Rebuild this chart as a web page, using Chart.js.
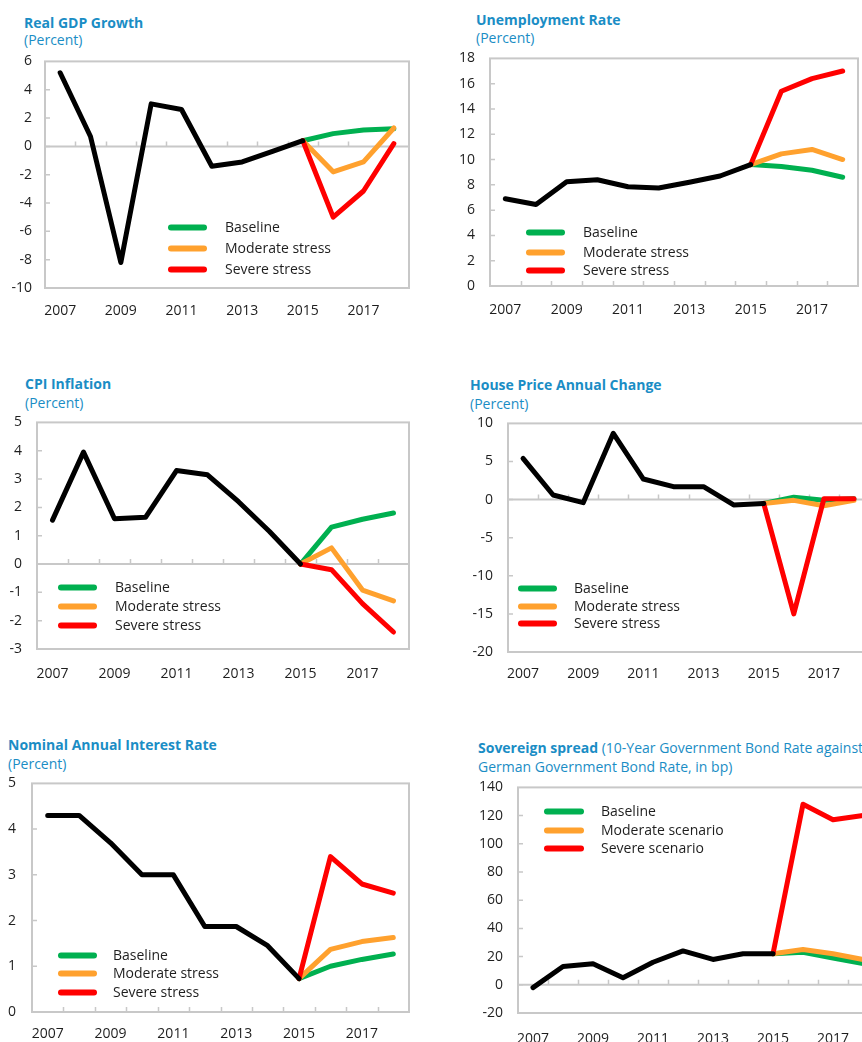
<!DOCTYPE html>
<html><head><meta charset="utf-8">
<script src="https://cdn.jsdelivr.net/npm/chart.js@4.4.0/dist/chart.umd.min.js"></script>
<style>
html,body{margin:0;padding:0;background:#fff;overflow:hidden;}
#wrap{position:relative;width:862px;height:1042px;overflow:hidden;background:#fff;}
canvas{position:absolute;}
.t{position:absolute;font-family:'Open Sans',sans-serif;font-size:14px;line-height:17px;color:#1a8dc5;white-space:nowrap;}
.t b{font-weight:700;}
</style></head><body><div id="wrap">
<div class="t" style="left:24px;top:14px"><b>Real GDP Growth</b></div>
<div class="t" style="left:24px;top:31px">(Percent)</div>
<div class="t" style="left:476px;top:11px"><b>Unemployment Rate</b></div>
<div class="t" style="left:476px;top:29px">(Percent)</div>
<div class="t" style="left:25px;top:375px"><b>CPI Inflation</b></div>
<div class="t" style="left:25px;top:394px">(Percent)</div>
<div class="t" style="left:470px;top:376px"><b>House Price Annual Change</b></div>
<div class="t" style="left:470px;top:395px">(Percent)</div>
<div class="t" style="left:8px;top:736px"><b>Nominal Annual Interest Rate</b></div>
<div class="t" style="left:8px;top:755px">(Percent)</div>
<div class="t" style="left:478px;top:739px"><b>Sovereign spread</b> (10-Year Government Bond Rate against</div>
<div class="t" style="left:478px;top:758px">German Government Bond Rate, in bp)</div>
</div>
<script>
// ---------- DATA ----------
const years = ['2007','2008','2009','2010','2011','2012','2013','2014','2015','2016','2017','2018'];
const shownYears = ['2007','2009','2011','2013','2015','2017'];
const legendStress = ['Baseline','Moderate stress','Severe stress'];
const legendScenario = ['Baseline','Moderate scenario','Severe scenario'];
const N = null;

const gdpHistory  = [5.2, 0.7, -8.2, 3.0, 2.6, -1.4, -1.1, -0.35, 0.4, N, N, N];
const gdpBaseline = [N, N, N, N, N, N, N, N, 0.4, 0.9, 1.15, 1.25];
const gdpModerate = [N, N, N, N, N, N, N, N, 0.4, -1.8, -1.1, 1.3];
const gdpSevere   = [N, N, N, N, N, N, N, N, 0.4, -5.0, -3.15, 0.2];

const unHistory  = [6.9, 6.45, 8.25, 8.4, 7.85, 7.75, 8.2, 8.7, 9.6, N, N, N];
const unBaseline = [N, N, N, N, N, N, N, N, 9.6, 9.45, 9.15, 8.6];
const unModerate = [N, N, N, N, N, N, N, N, 9.6, 10.45, 10.8, 10.0];
const unSevere   = [N, N, N, N, N, N, N, N, 9.6, 15.4, 16.4, 17.0];

const cpiHistory  = [1.55, 3.95, 1.6, 1.65, 3.3, 3.15, 2.2, 1.15, 0.0, N, N, N];
const cpiBaseline = [N, N, N, N, N, N, N, N, 0.0, 1.3, 1.58, 1.8];
const cpiModerate = [N, N, N, N, N, N, N, N, 0.0, 0.57, -0.92, -1.3];
const cpiSevere   = [N, N, N, N, N, N, N, N, 0.0, -0.2, -1.4, -2.4];

const hpHistory  = [5.4, 0.6, -0.4, 8.7, 2.7, 1.7, 1.7, -0.7, -0.5, N, N, N];
const hpBaseline = [N, N, N, N, N, N, N, N, -0.5, 0.3, -0.1, 0.1];
const hpModerate = [N, N, N, N, N, N, N, N, -0.5, -0.1, -0.8, -0.1];
const hpSevere   = [N, N, N, N, N, N, N, N, -0.5, -15.0, 0.1, 0.1];

const irHistory  = [4.3, 4.3, 3.7, 3.0, 3.0, 1.87, 1.87, 1.45, 0.73, N, N, N];
const irBaseline = [N, N, N, N, N, N, N, N, 0.73, 1.0, 1.15, 1.27];
const irModerate = [N, N, N, N, N, N, N, N, 0.73, 1.37, 1.54, 1.63];
const irSevere   = [N, N, N, N, N, N, N, N, 0.73, 3.4, 2.8, 2.6];

const ssHistory  = [-2, 13, 15, 5, 16, 24, 18, 22, 22, N, N, N];
const ssBaseline = [N, N, N, N, N, N, N, N, 22, 23, 19, 15];
const ssModerate = [N, N, N, N, N, N, N, N, 22, 25, 22, 18];
const ssSevere   = [N, N, N, N, N, N, N, N, 22, 128, 117, 120];

// ---------- LAYOUT / STYLE ----------
const COLORS = {hist:'#000000', base:'#00b050', mod:'#ffa12e', sev:'#ff0000'};
const panels = [
  {ox:0,   box:[45,61,409,288],   y:[-10,6,2],  yPad:13, xPad:15, lg:{x0:168,x1:207,tx:225,rows:[227,248,269]}, names:legendStress,
   s:[gdpHistory,gdpBaseline,gdpModerate,gdpSevere]},
  {ox:431, box:[490,58,858,286],  y:[0,18,2],   yPad:15, xPad:16, lg:{x0:526,x1:565,tx:583,rows:[232,252,270]}, names:legendStress,
   s:[unHistory,unBaseline,unModerate,unSevere]},
  {ox:0,   box:[37,422,409,649],  y:[-3,5,1],   yPad:15, xPad:17, lg:{x0:58,x1:97,tx:115,rows:[587,606,625]}, names:legendStress,
   s:[cpiHistory,cpiBaseline,cpiModerate,cpiSevere]},
  {ox:431, box:[508,423,869,652], y:[-20,10,5], yPad:15, xPad:14, lg:{x0:518,x1:557,tx:574,rows:[588,606,623]}, names:legendStress,
   s:[hpHistory,hpBaseline,hpModerate,hpSevere]},
  {ox:0,   box:[32,783,409,1012], y:[0,5,1],    yPad:16, xPad:14, lg:{x0:58,x1:97,tx:113,rows:[955,973,992]}, names:legendStress,
   s:[irHistory,irBaseline,irModerate,irSevere]},
  {ox:431, box:[518,787,878,1013],y:[-20,140,20],yPad:15, xPad:18, lg:{x0:544,x1:584,tx:601,rows:[811,830,848]}, names:legendScenario,
   s:[ssHistory,ssBaseline,ssModerate,ssSevere]},
];

const PADR = 12, XH = 44;
const GRAY = '#c8c8c8';
const TXT = '#1e1e1e';

const framePlugin = {
  id: 'frame',
  beforeDatasetsDraw(chart, args, o) {
    const {ctx, chartArea: a, scales: {x, y}} = chart;
    ctx.save();
    ctx.strokeStyle = GRAY;
    ctx.lineWidth = 2;
    ctx.strokeRect(a.left, a.top, a.right - a.left, a.bottom - a.top);
    const y0 = y.getPixelForValue(0);
    ctx.beginPath();
    ctx.moveTo(a.left, y0); ctx.lineTo(a.right, y0);
    ctx.stroke();
    ctx.lineWidth = 1.5;
    ctx.beginPath();
    for (let i = 1; i < x.ticks.length; i++) {
      const px = Math.round((x.getPixelForTick(i - 1) + x.getPixelForTick(i)) / 2) + 0.5;
      ctx.moveTo(px, y0); ctx.lineTo(px, y0 - 5);
    }
    y.ticks.forEach((t, i) => {
      const py = y.getPixelForTick(i);
      if (py > a.top + 2 && py < a.bottom - 2) { ctx.moveTo(a.left, py); ctx.lineTo(a.left + 5, py); }
    });
    ctx.stroke();
    ctx.restore();
  },
  afterDraw(chart, args, o) {
    const {ctx} = chart;
    const lg = o.lg;
    if (!lg) return;
    const ox = o.pos.x, oy = o.pos.y;
    const cols = [COLORS.base, COLORS.mod, COLORS.sev];
    ctx.save();
    ctx.lineCap = 'round';
    ctx.lineWidth = 6;
    ctx.font = '14px "Open Sans"';
    ctx.textBaseline = 'alphabetic';
    ctx.textAlign = 'left';
    o.names.forEach((nm, i) => {
      const yy = lg.rows[i] - oy;
      ctx.strokeStyle = cols[i];
      ctx.beginPath();
      ctx.moveTo(lg.x0 - ox + 3, yy); ctx.lineTo(lg.x1 - ox - 3, yy);
      ctx.stroke();
      ctx.fillStyle = TXT;
      ctx.fillText(nm, lg.tx - ox, yy + 5);
    });
    ctx.restore();
  }
};

function config(p, L, cx, pos) {
  const mk = (data, color, label) => ({
    label, data, borderColor: color, backgroundColor: color, borderWidth: 5,
    pointRadius: 0, pointHoverRadius: 0, tension: 0, spanGaps: false,
    borderCapStyle: 'round', borderJoinStyle: 'round', fill: false
  });
  return {
    type: 'line',
    data: {
      labels: years,
      datasets: [
        mk(p.s[0], COLORS.hist, 'History'),
        mk(p.s[3], COLORS.sev, p.names[2]),
        mk(p.s[2], COLORS.mod, p.names[1]),
        mk(p.s[1], COLORS.base, p.names[0]),
      ]
    },
    options: {
      responsive: false, maintainAspectRatio: false, animation: false, devicePixelRatio: 1,
      layout: {padding: {top: 0, right: PADR, left: 0, bottom: 0}},
      plugins: {
        legend: {display: false}, tooltip: {enabled: false},
        frame: {lg: p.lg, names: p.names, pos: pos}
      },
      scales: {
        x: {
          type: 'category', offset: true,
          grid: {display: false, drawTicks: false}, border: {display: false},
          ticks: {
            autoSkip: false, maxRotation: 0, padding: p.xPad, color: TXT,
            callback: function (v) { const l = this.getLabelForValue(v); return shownYears.includes(l) ? l : ''; }
          },
          afterFit: s => { s.height = XH; }
        },
        y: {
          min: p.y[0], max: p.y[1],
          grid: {display: false, drawTicks: false}, border: {display: false},
          ticks: {stepSize: p.y[2], padding: p.yPad, color: TXT},
          afterFit: s => { s.width = L - cx; }
        }
      }
    },
    plugins: [framePlugin]
  };
}

function build() {
  Chart.defaults.font.family = "'Open Sans'";
  Chart.defaults.font.size = 14;
  Chart.defaults.color = TXT;
  const wrap = document.getElementById('wrap');
  panels.forEach(p => {
    const [L, T, R, B] = p.box;
    const cx = p.ox;
    // first pass: measure the chart area the library produces
    let cw = R - cx + PADR, ch = (B - T) + 20 + XH;
    const probe = document.createElement('canvas');
    probe.width = cw; probe.height = ch;
    probe.style.left = '0px'; probe.style.top = '0px';
    probe.style.width = cw + 'px'; probe.style.height = ch + 'px';
    probe.style.visibility = 'hidden';
    wrap.appendChild(probe);
    const c1 = new Chart(probe, config(p, L, cx, {x: 0, y: 0}));
    const a = c1.chartArea;
    const nl = L - a.left, nt = T - a.top;
    const nw = Math.round(a.left + (R - L) + (cw - a.right));
    const nh = Math.round(a.top + (B - T) + (ch - a.bottom));
    c1.destroy();
    wrap.removeChild(probe);
    const cv = document.createElement('canvas');
    cv.width = nw; cv.height = nh;
    cv.style.left = nl + 'px'; cv.style.top = nt + 'px';
    cv.style.width = nw + 'px'; cv.style.height = nh + 'px';
    wrap.appendChild(cv);
    new Chart(cv, config(p, L, nl, {x: nl, y: nt}));
  });
}
if (document.fonts && document.fonts.load) {
  Promise.all([document.fonts.load('14px "Open Sans"'), document.fonts.load('bold 14px "Open Sans"')])
    .then(build, build);
} else build();
</script>
</body></html>
